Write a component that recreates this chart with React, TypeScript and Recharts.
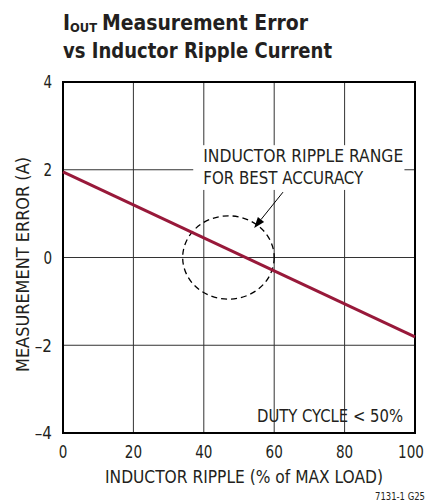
import React from "react";
import {
  ComposedChart,
  Line,
  XAxis,
  YAxis,
  CartesianGrid,
  ReferenceArea,
  ReferenceLine,
} from "recharts";

const FONT =
  "'Liberation Sans Narrow', 'DejaVu Sans Condensed', 'Arial Narrow', 'Liberation Sans', sans-serif";
const INK = "#231f20";
const RED = "#98193a";
const W = 429;
const H = 502;

// chart values
const ripple = [0, 100];
const error = [1.95, -1.81];
const xTicks = [0, 20, 40, 60, 80, 100];
const yTicks = [-4, -2, 0, 2, 4];

// annotations (data units)
const noteLines = ["INDUCTOR RIPPLE RANGE", "FOR BEST ACCURACY"];
const noteWidths = [200, 160];
const bestX = [34, 60];
const bestY = [-0.95, 0.95];
const noteX = [37, 97];
const noteY = [1.54, 2.56];
const arrowFrom = [62.5, 1.49];
const arrowTo = [54.3, 0.67];

const data = ripple.map((r, i) => ({ ripple: r, error: error[i] }));

const fmt = (v: number) => String(v).replace("-", "\u2013");

// narrow the fallback font to the condensed look of the original
const squeeze = (s: string) => s.length * 8.6;

function XTick(props: any) {
  const { x, y, payload } = props;
  const s = fmt(payload.value);
  const w = squeeze(s);
  // keep the last label inside the page
  const cx = Math.min(x, W - 18);
  return (
    <text
      x={cx}
      y={y}
      dy="0.71em"
      textAnchor="middle"
      fill={INK}
      fontSize={18}
      fontFamily={FONT}
      textLength={w}
      lengthAdjust="spacingAndGlyphs"
    >
      {s}
    </text>
  );
}

function YTick(props: any) {
  const { x, y, payload } = props;
  const s = fmt(payload.value);
  return (
    <text
      x={x}
      y={y}
      dy="0.355em"
      textAnchor="end"
      fill={INK}
      fontSize={18}
      fontFamily={FONT}
      textLength={squeeze(s)}
      lengthAdjust="spacingAndGlyphs"
    >
      {s}
    </text>
  );
}

function DashedEllipse(props: any) {
  const { x, y, width, height } = props;
  return (
    <ellipse
      cx={x + width / 2}
      cy={y + height / 2}
      rx={width / 2}
      ry={height / 2}
      fill="none"
      stroke="#000"
      strokeWidth={1.3}
      strokeDasharray="6 4"
    />
  );
}

function NoteBox(props: any) {
  const { x, y, width, height } = props;
  return (
    <g>
      <rect x={x} y={y} width={width} height={height} fill="#fff" />
      {noteLines.map((t, i) => (
        <text
          key={t}
          x={x + 10}
          y={y + 17 + i * 22}
          fill={INK}
          fontSize={18}
          fontFamily={FONT}
          textLength={noteWidths[i]}
          lengthAdjust="spacingAndGlyphs"
        >
          {t}
        </text>
      ))}
    </g>
  );
}

function Arrow(props: any) {
  const { x1, y1, x2, y2 } = props;
  const dx = x2 - x1;
  const dy = y2 - y1;
  const len = Math.sqrt(dx * dx + dy * dy);
  const ux = dx / len;
  const uy = dy / len;
  const head = 11;
  const half = 4;
  const bx = x2 - ux * head;
  const by = y2 - uy * head;
  return (
    <g>
      <line x1={x1} y1={y1} x2={bx} y2={by} stroke="#000" strokeWidth={1} />
      <polygon
        points={`${x2},${y2} ${bx - uy * half},${by + ux * half} ${bx + uy * half},${by - ux * half}`}
        fill="#000"
      />
    </g>
  );
}

function YLabel(props: any) {
  const vb = props.viewBox || { x: 0, y: 82, width: 63, height: 351 };
  const cx = 22;
  const cy = vb.y + vb.height / 2 + 7;
  return (
    <text
      x={cx}
      y={cy}
      transform={`rotate(-90 ${cx} ${cy})`}
      textAnchor="middle"
      dominantBaseline="central"
      fill={INK}
      fontSize={18}
      fontFamily={FONT}
      textLength={215}
      lengthAdjust="spacingAndGlyphs"
    >
      MEASUREMENT ERROR (A)
    </text>
  );
}

function XLabel(props: any) {
  const vb = props.viewBox || { x: 63, y: 433, width: 352, height: 69 };
  return (
    <text
      x={vb.x + vb.width / 2 + 5}
      y={vb.y + 50}
      textAnchor="middle"
      fill={INK}
      fontSize={18}
      fontFamily={FONT}
      textLength={278}
      lengthAdjust="spacingAndGlyphs"
    >
      INDUCTOR RIPPLE (% of MAX LOAD)
    </text>
  );
}

export default function App() {
  return (
    <div
      style={{
        position: "absolute",
        left: 0,
        top: 0,
        width: W,
        height: H,
        background: "#fff",
        fontFamily: FONT,
      }}
    >
      <ComposedChart
        width={W}
        height={H}
        data={data}
        margin={{ top: 82, right: 14, bottom: 0, left: 0 }}
      >
        <CartesianGrid stroke="#333" strokeWidth={1} />
        <XAxis
          dataKey="ripple"
          type="number"
          domain={[0, 100]}
          ticks={xTicks}
          interval={0}
          height={69}
          tickSize={0}
          tickMargin={12}
          axisLine={false}
          tickLine={false}
          tick={<XTick />}
          label={{ content: XLabel }}
        />
        <YAxis
          type="number"
          domain={[-4, 4]}
          ticks={yTicks}
          interval={0}
          width={63}
          tickSize={0}
          tickMargin={11}
          axisLine={false}
          tickLine={false}
          tick={<YTick />}
          label={{ content: YLabel }}
        />
        <ReferenceArea
          x1={noteX[0]}
          x2={noteX[1]}
          y1={noteY[0]}
          y2={noteY[1]}
          shape={NoteBox}
        />
        <ReferenceArea
          x1={bestX[0]}
          x2={bestX[1]}
          y1={bestY[0]}
          y2={bestY[1]}
          shape={DashedEllipse}
        />
        <ReferenceLine
          segment={[
            { x: arrowFrom[0], y: arrowFrom[1] },
            { x: arrowTo[0], y: arrowTo[1] },
          ]}
          shape={Arrow}
        />
        <Line
          dataKey="error"
          type="linear"
          stroke={RED}
          strokeWidth={3}
          dot={false}
          activeDot={false}
          isAnimationActive={false}
        />
        <ReferenceArea
          x1={0}
          x2={100}
          y1={-4}
          y2={4}
          fill="none"
          stroke="#000"
          strokeWidth={2}
          fillOpacity={0}
        />
      </ComposedChart>
      <svg
        width={W}
        height={H}
        style={{ position: "absolute", left: 0, top: 0, pointerEvents: "none" }}
      >
        <g fill={INK} fontWeight="bold" fontFamily={FONT}>
          <text x={63} y={30} fontSize={21}>
            I
          </text>
          <text x={70} y={32} fontSize={13} textLength={27} lengthAdjust="spacingAndGlyphs">
            OUT
          </text>
          <text x={102} y={30} fontSize={21} textLength={206} lengthAdjust="spacingAndGlyphs">
            Measurement Error
          </text>
          <text x={63} y={58} fontSize={21} textLength={269} lengthAdjust="spacingAndGlyphs">
            vs Inductor Ripple Current
          </text>
        </g>
        <text
          x={403}
          y={422}
          textAnchor="end"
          fill={INK}
          fontSize={18}
          fontFamily={FONT}
          textLength={146}
          lengthAdjust="spacingAndGlyphs"
        >
          DUTY CYCLE &lt; 50%
        </text>
        <text
          x={425}
          y={500}
          textAnchor="end"
          fill={INK}
          fontSize={10}
          fontFamily={FONT}
          textLength={50}
          lengthAdjust="spacingAndGlyphs"
        >
          7131-1 G25
        </text>
      </svg>
    </div>
  );
}
